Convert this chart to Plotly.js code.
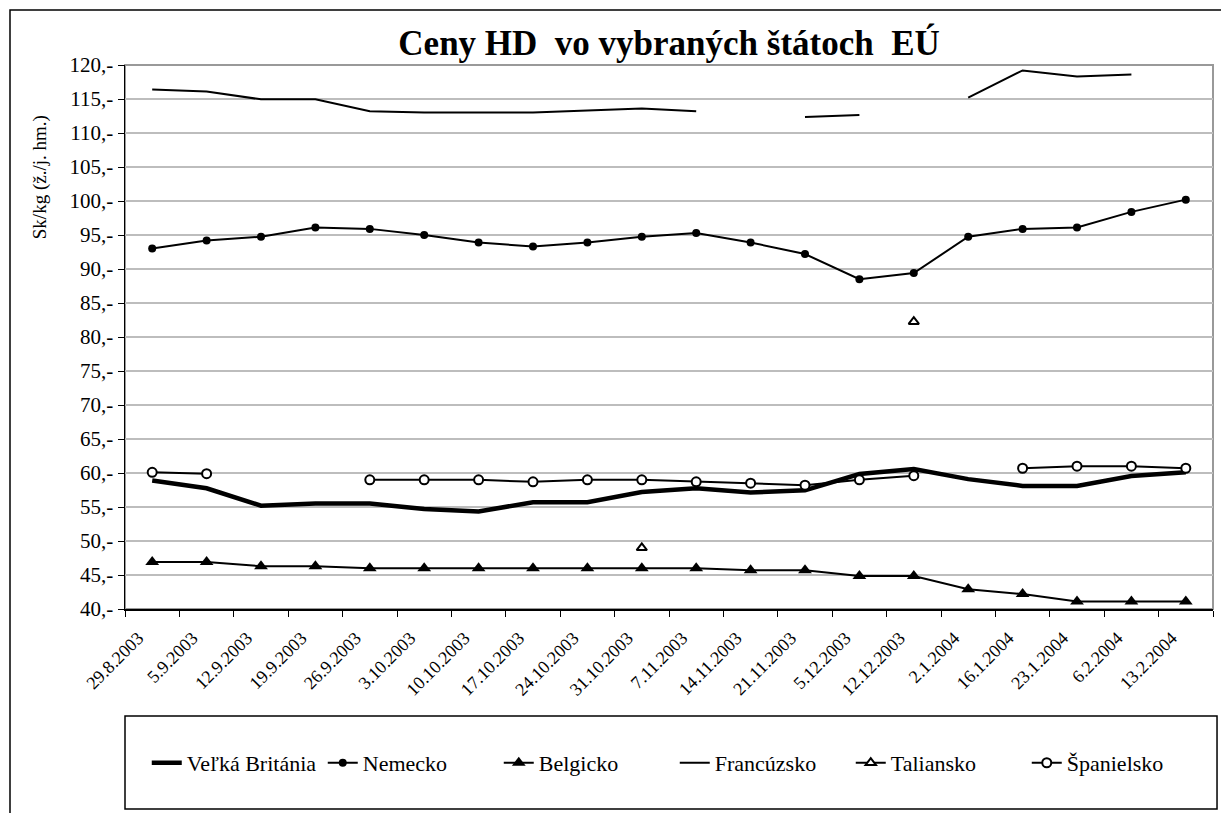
<!DOCTYPE html>
<html>
<head>
<meta charset="utf-8">
<script src="https://cdn.plot.ly/plotly-3.0.1.min.js"></script>
<style>
  html, body { margin: 0; padding: 0; background: #fff; }
  #graph { width: 1221px; height: 813px; }
</style>
</head>
<body>
<div id="graph"></div>
<script>
// dates of the weekly price reports
var dates = ['29.8.2003', '5.9.2003', '12.9.2003', '19.9.2003', '26.9.2003', '3.10.2003',
    '10.10.2003', '17.10.2003', '24.10.2003', '31.10.2003', '7.11.2003', '14.11.2003',
    '21.11.2003', '5.12.2003', '12.12.2003', '2.1.2004', '16.1.2004', '23.1.2004',
    '6.2.2004', '13.2.2004'];

// Sk/kg, null = no report that week
var velkaBritania = [58.9, 57.75, 55.2, 55.5, 55.5, 54.7, 54.35, 55.7, 55.7, 57.2,
    57.75, 57.15, 57.45, 59.85, 60.6, 59.1, 58.1, 58.1, 59.55, 60.1];
var nemecko = [93.0, 94.2, 94.75, 96.1, 95.9, 95.0, 93.9, 93.3, 93.9, 94.75,
    95.3, 93.9, 92.2, 88.5, 89.4, 94.75, 95.9, 96.1, 98.4, 100.2];
var belgicko = [46.9, 46.9, 46.3, 46.3, 46.0, 46.0, 46.0, 46.0, 46.0, 46.0,
    46.0, 45.7, 45.7, 44.85, 44.85, 42.9, 42.2, 41.1, 41.1, 41.1];
var francuzsko = [116.4, 116.1, 114.95, 114.95, 113.2, 113.0, 113.0, 113.0, 113.3, 113.6,
    113.2, null, 112.35, 112.65, null, 115.2, 119.2, 118.3, 118.6, null];
var taliansko = [null, null, null, null, null, null, null, null, null, 49.0,
    null, null, null, null, 82.25, null, null, null, null, null];
var spanielsko = [60.1, 59.9, null, null, 59.0, 59.0, 59.0, 58.7, 59.0, 59.0,
    58.7, 58.5, 58.2, 59.0, 59.6, null, 60.7, 61.0, 61.0, 60.7];

var yTicks = [40, 45, 50, 55, 60, 65, 70, 75, 80, 85, 90, 95, 100, 105, 110, 115, 120];
var yTickText = yTicks.map(function (v) { return v + ',-'; });

var serif = "'Liberation Serif', 'Times New Roman', serif";

function line(name, y, width, marker) {
    var t = {
        x: dates,
        y: y,
        name: name,
        type: 'scatter',
        mode: marker ? 'lines+markers' : 'lines',
        line: { color: 'black', width: width },
        connectgaps: false
    };
    if (marker) t.marker = marker;
    return t;
}

var allLines = [
    line('Veľká Británia', velkaBritania, 4.5),
    line('Nemecko', nemecko, 2, { symbol: 'circle', size: 8, color: 'black' }),
    line('Belgicko', belgicko, 2, { symbol: 'triangle-up', size: 12, color: 'black' }),
    line('Francúzsko', francuzsko, 2),
    line('Taliansko', taliansko, 2, { symbol: 'triangle-up', size: 9, color: 'white',
        line: { color: 'black', width: 2 } }),
    line('Španielsko', spanielsko, 2, { symbol: 'circle', size: 9, color: 'white',
        line: { color: 'black', width: 2 } })
];

var frame = {
    width: 1221,
    height: 813,
    paper_bgcolor: 'white',
    plot_bgcolor: 'white',
    margin: { l: 125, r: 8, t: 65, b: 204 },
    font: { family: serif, color: 'black', size: 20 },
    title: {
        text: '<b>Ceny HD\u00a0 vo vybraných štátoch\u00a0 EÚ</b>',
        font: { family: serif, size: 35, color: 'black' },
        x: 0.548, xanchor: 'center',
        y: 0.947, yanchor: 'middle'
    },
    showlegend: true,
    legend: {
        orientation: 'h',
        x: 0.02, xanchor: 'left',
        y: -0.283, yanchor: 'middle',
        bgcolor: 'rgba(0,0,0,0)',
        font: { family: serif, size: 22, color: 'black' },
        entrywidth: 131,
        entrywidthmode: 'pixels',
        itemwidth: 30
    },
    xaxis: {
        type: 'category',
        range: [-0.5, 19.5],
        tickangle: -45,
        tickson: 'boundaries',
        ticks: 'outside',
        ticklen: 6,
        tickcolor: 'black',
        ticklabelstandoff: 10,
        ticklabelshift: -14,
        showline: true,
        linecolor: 'black',
        linewidth: 1.5,
        showgrid: false,
        tickfont: { family: serif, size: 18 }
    },
    yaxis: {
        range: [40, 120],
        tickvals: yTicks,
        ticktext: yTickText,
        ticks: 'outside',
        ticklen: 6,
        tickcolor: 'black',
        showline: true,
        linecolor: 'black',
        linewidth: 1.5,
        gridcolor: '#bdbdbd',
        gridwidth: 1.5,
        zeroline: false,
        tickfont: { family: serif, size: 21 }
    },
    annotations: [{
        text: 'Sk/kg (ž./j. hm.)',
        xref: 'paper', yref: 'paper',
        x: -0.078, y: 0.794,
        xanchor: 'center', yanchor: 'middle',
        textangle: -90,
        showarrow: false,
        font: { family: serif, size: 19, color: 'black' }
    }],
    shapes: [
        // outer chart frame (left and top edges show)
        { type: 'rect', xref: 'paper', yref: 'paper', layer: 'below',
          x0: -0.1057, x1: 1.05, y0: -0.45, y1: 1.1011,
          line: { color: 'black', width: 1.5 } },
        // plot area border
        { type: 'rect', xref: 'paper', yref: 'paper', layer: 'below',
          x0: 0, x1: 1, y0: 0, y1: 1,
          line: { color: '#999999', width: 2 } },
        // legend box
        { type: 'rect', xref: 'paper', yref: 'paper', layer: 'below',
          x0: 0, x1: 1.0037, y0: -0.3676, y1: -0.1967,
          line: { color: 'black', width: 1.5 } }
    ]
};

Plotly.newPlot('graph', allLines, frame, { displayModeBar: false, staticPlot: true });
</script>
</body>
</html>
